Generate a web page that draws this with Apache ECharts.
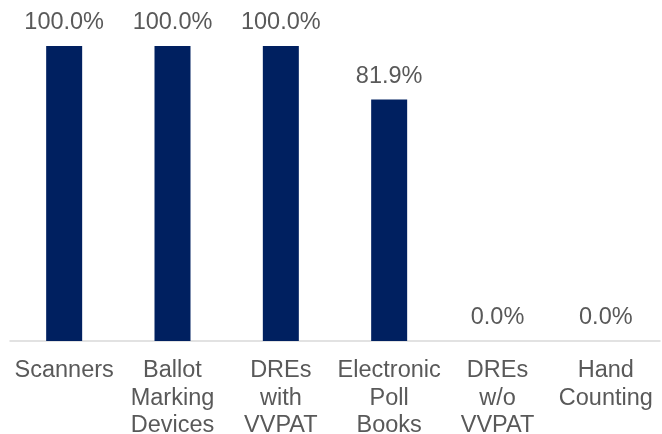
<!DOCTYPE html>
<html>
<head>
<meta charset="utf-8">
<script src="https://cdn.jsdelivr.net/npm/echarts@6/dist/echarts.min.js"></script>
<style>html,body{margin:0;padding:0;background:#fff}#c{width:662px;height:434px}</style>
</head>
<body>
<div id="c"></div>
<script>
const categories = ["Scanners", "Ballot\nMarking\nDevices", "DREs\nwith\nVVPAT", "Electronic\nPoll\nBooks", "DREs\nw/o\nVVPAT", "Hand\nCounting"];
const values = [100.0, 100.0, 100.0, 81.9, 0.0, 0.0];

const chart = echarts.init(document.getElementById('c'));
chart.setOption({
  animation: false,
  grid: {left: 10, right: 2, top: 46, bottom: 93, containLabel: false, outerBoundsMode: 'none'},
  xAxis: {
    type: 'category',
    data: categories,
    axisLine: {show: true, lineStyle: {color: '#d9d9d9', width: 1.5}},
    axisTick: {show: false},
    axisLabel: {interval: 0, margin: 16, color: '#595959', fontSize: 23.5, lineHeight: 27.5, fontFamily: 'Liberation Sans, Arial, sans-serif'}
  },
  yAxis: {type: 'value', min: 0, max: 100, show: false, splitLine: {show: false}},
  series: [{
    type: 'bar',
    data: values,
    barWidth: 36,
    itemStyle: {color: '#002060'},
    label: {show: true, position: 'top', distance: 11, color: '#595959', fontSize: 23.5, fontFamily: 'Liberation Sans, Arial, sans-serif',
      formatter: p => p.value.toFixed(1) + '%'}
  }]
});
</script>
</body>
</html>
